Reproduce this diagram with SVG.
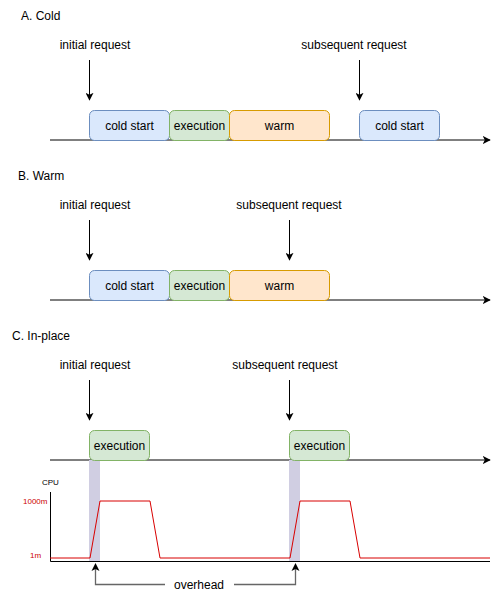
<svg xmlns="http://www.w3.org/2000/svg" width="499" height="600" viewBox="0 0 499 600">
<defs>
<marker id="ah" viewBox="0 0 10 10" refX="9" refY="5" markerWidth="8" markerHeight="8" markerUnits="userSpaceOnUse" orient="auto">
<path d="M0,0 L10,5 L0,10 L2.5,5 Z" fill="#000"/>
</marker>
<marker id="ahg" viewBox="0 0 10 10" refX="9" refY="5" markerWidth="8" markerHeight="8" markerUnits="userSpaceOnUse" orient="auto">
<path d="M0,0 L10,5 L0,10 L2.5,5 Z" fill="#000"/>
</marker>
<style>
text{font-family:"Liberation Sans",Arial,sans-serif;font-size:12px;fill:#000}
.c{text-anchor:middle}
.cold{fill:#dae8fc;stroke:#6c8ebf}
.exec{fill:#d5e8d4;stroke:#82b366}
.warm{fill:#ffe6cc;stroke:#d79b00}
.ln{stroke:#000;stroke-width:1;fill:none}
.arr{stroke:#000;stroke-width:1;fill:none;marker-end:url(#ah)}
.band{fill:#d0cee2}
.red{stroke:#d80000;stroke-width:1;fill:none}
.small{font-size:8px}
.rt{fill:#cc0000}
.gray{stroke:#666;stroke-width:1.3;fill:none}
</style>
</defs>

<g id="titles">
<text x="21" y="20">A. Cold</text>
<text x="18" y="180">B. Warm</text>
<text x="12" y="340">C. In-place</text>
</g>

<g id="labels">
<text class="c" x="95" y="49">initial request</text>
<text class="c" x="354" y="49">subsequent request</text>
<text class="c" x="95" y="209">initial request</text>
<text class="c" x="289" y="209">subsequent request</text>
<text class="c" x="95" y="369">initial request</text>
<text class="c" x="285" y="369">subsequent request</text>
</g>

<g id="connectors">
<path class="arr" d="M50,140 H490"/>
<path class="arr" d="M50,300 H490"/>
<path class="arr" d="M50,460 H490"/>
<path class="arr" d="M89.5,60 V100"/>
<path class="arr" d="M359.5,60 V100"/>
<path class="arr" d="M89.5,220 V260"/>
<path class="arr" d="M289.5,220 V260"/>
<path class="arr" d="M89.5,380 V420"/>
<path class="arr" d="M289.5,380 V420"/>
</g>

<g id="bands">
<rect class="band" x="89" y="460" width="11" height="101"/>
<rect class="band" x="289" y="460" width="11" height="101"/>
</g>

<g id="nodeA">
<g id="a-cold"><rect class="cold" x="89.5" y="110.5" width="80" height="30" rx="5"/><text class="c" x="129.5" y="129.5">cold start</text></g>
<g id="a-exec"><rect class="exec" x="169.5" y="110.5" width="60" height="30" rx="5"/><text class="c" x="199.5" y="129.5">execution</text></g>
<g id="a-warm"><rect class="warm" x="229.5" y="110.5" width="100" height="30" rx="5"/><text class="c" x="279.5" y="129.5">warm</text></g>
<g id="a-cold2"><rect class="cold" x="359.5" y="110.5" width="80" height="30" rx="5"/><text class="c" x="399.5" y="129.5">cold start</text></g>
</g>

<g id="nodeB">
<g id="b-cold"><rect class="cold" x="89.5" y="270.5" width="80" height="30" rx="5"/><text class="c" x="129.5" y="289.5">cold start</text></g>
<g id="b-exec"><rect class="exec" x="169.5" y="270.5" width="60" height="30" rx="5"/><text class="c" x="199.5" y="289.5">execution</text></g>
<g id="b-warm"><rect class="warm" x="229.5" y="270.5" width="100" height="30" rx="5"/><text class="c" x="279.5" y="289.5">warm</text></g>
</g>

<g id="nodeC">
<g id="c-exec1"><rect class="exec" x="89.5" y="430.5" width="60" height="30" rx="5"/><text class="c" x="119.5" y="449.5">execution</text></g>
<g id="c-exec2"><rect class="exec" x="289.5" y="430.5" width="60" height="30" rx="5"/><text class="c" x="319.5" y="449.5">execution</text></g>
</g>

<g id="chart">
<path class="ln" d="M50.5,492 V561.5 H490"/>
<text class="small" x="42" y="485">CPU</text>
<text class="small rt" x="23" y="504">1000m</text>
<text class="small rt" x="30" y="558">1m</text>
<path class="red" d="M50,558 H90 L100,501 H150 L160,558 H290 L300,501 H350 L360,558 H490"/>
</g>

<g id="overhead">
<path class="gray" d="M165,584.5 H95.5 V569"/>
<path d="M95.5,563 L99.5,571 L95.5,569 L91.5,571 Z" fill="#000"/>
<path class="gray" d="M234,584.5 H295.5 V569"/>
<path d="M295.5,563 L299.5,571 L295.5,569 L291.5,571 Z" fill="#000"/>
<text class="c" x="199" y="588.5">overhead</text>
</g>
</svg>
